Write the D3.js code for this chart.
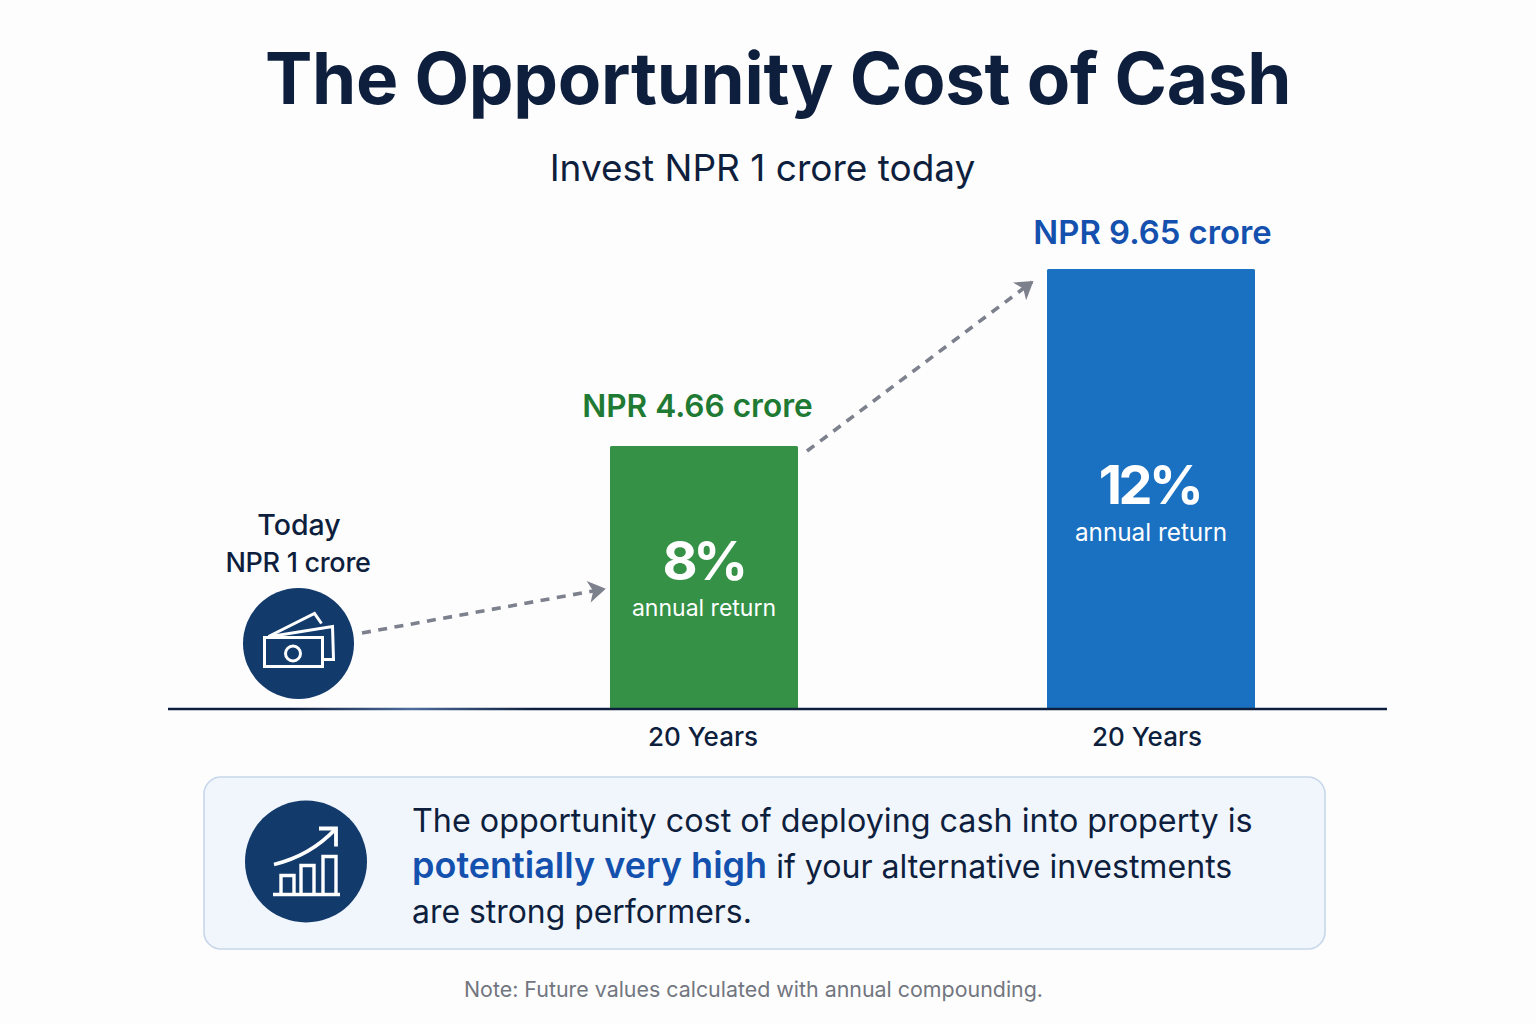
<!DOCTYPE html>
<html lang="en">
<head>
<meta charset="utf-8">
<title>The Opportunity Cost of Cash</title>
<script src="https://cdn.jsdelivr.net/npm/d3@7"></script>
<style>
  html, body { margin: 0; padding: 0; background: #fdfdfe; }
  svg { display: block; }
  text { font-family: Inter, "Noto Sans", sans-serif; }
</style>
</head>
<body>
<svg id="chart" width="1536" height="1024"></svg>
<script>
// Chart values
const categories = ["8%", "12%"];
const futureValues = [4.66, 9.65];
const valueLabels = ["NPR 4.66 crore", "NPR 9.65 crore"];
const barColors = ["#359146", "#1b71c1"];
const labelColors = ["#1f7a33", "#1450ad"];
const horizonLabels = ["20 Years", "20 Years"];
const calloutLines = [
  [["The opportunity cost of deploying cash into property is", false]],
  [["potentially very high", true], [" if your alternative investments", false]],
  [["are strong performers.", false]]
];
const calloutSizes = [32.3, 32.1, 31.9];

const ink = "#0e1f3d";
const navy = "#123a6b";
const svg = d3.select("#chart");
const defs = svg.append("defs");

// Scales: the value axis is compressed, with its zero on the baseline
const baseY = 709;
const y = d3.scalePow().exponent(0.707).domain([0, 9.65]).range([baseY, 269]);
const barLeft = d3.scaleOrdinal().domain(categories).range([610, 1047]);
const barWidth = d3.scaleOrdinal().domain(categories).range([188, 208]);
const barMid = c => barLeft(c) + barWidth(c) / 2;

const bars = categories.map((c, i) => ({
  c, value: futureValues[i], label: valueLabels[i],
  fill: barColors[i], labelFill: labelColors[i], horizon: horizonLabels[i]
}));

function put(sel, x, yPos, str, size, weight, fill, anchor = "middle") {
  return sel.append("text").attr("x", x).attr("y", yPos)
    .attr("font-size", size).attr("font-weight", weight)
    .attr("fill", fill).attr("text-anchor", anchor).text(str);
}

// Headings
put(svg, 778, 103.5, "The Opportunity Cost of Cash", 71, 700, ink).attr("letter-spacing", -0.3);
put(svg, 762.5, 181, "Invest NPR 1 crore today", 37, 400, ink);

// Bars
svg.append("g").selectAll("rect").data(bars).join("rect")
  .attr("x", d => barLeft(d.c))
  .attr("y", d => y(d.value))
  .attr("width", d => barWidth(d.c))
  .attr("height", d => baseY - y(d.value))
  .attr("rx", 1.5)
  .attr("fill", d => d.fill);

// Labels on and above each bar
bars.forEach((d, i) => {
  const mid = barMid(d.c);
  const top = y(d.value);
  put(svg, i ? mid + 1.5 : mid - 6.5, top - (i ? 25 : 29), d.label, i ? 32.8 : 31.6, 600, d.labelFill);
  const pctY = top + (i ? 235 : 134);
  put(svg, i ? mid - 1.5 : mid - 1, pctY, d.c, 54, 700, "#ffffff").attr("letter-spacing", i ? -3.5 : -4.5);
  put(svg, mid, pctY + (i ? 37 : 36), "annual return", i ? 24.3 : 23, 400, "#ffffff");
  put(svg, i ? mid - 4 : mid - 1, 746, d.horizon, 26, 500, ink);
});

// Baseline with a soft highlight toward its left side
const lineGrad = defs.append("linearGradient").attr("id", "baseGlow")
  .attr("gradientUnits", "userSpaceOnUse")
  .attr("x1", 168).attr("x2", 1387).attr("y1", 0).attr("y2", 0);
[[0, ink], [0.1, ink], [0.2, "#4d6d9d"], [0.3, ink], [1, ink]].forEach(([o, c]) =>
  lineGrad.append("stop").attr("offset", o).attr("stop-color", c));
svg.append("line").attr("x1", 168).attr("x2", 1387)
  .attr("y1", baseY).attr("y2", baseY)
  .attr("stroke", "url(#baseGlow)").attr("stroke-width", 2.4);

// Starting point: banknotes badge
put(svg, 299, 535, "Today", 28.5, 500, ink);
put(svg, 298, 572, "NPR 1 crore", 27, 500, ink).attr("letter-spacing", -0.3);
const cash = svg.append("g").attr("transform", "translate(298.5,643.5)");
cash.append("circle").attr("r", 55.5).attr("fill", navy);
const cashLines = cash.append("g").attr("fill", "none").attr("stroke", "#fff")
  .attr("stroke-width", 3).attr("stroke-linejoin", "miter");
cashLines.append("rect").attr("x", -34).attr("y", -6).attr("width", 58).attr("height", 29);
cashLines.append("circle").attr("cx", -5.5).attr("cy", 10).attr("r", 7.5);
cashLines.append("path").attr("d", "M-28,-7 L34,-17 L35,16 L25,16");
cashLines.append("path").attr("d", "M-30,-7 L16,-30 L23,-20");

// Dashed arrows linking start and bars
const arrowColor = "#7d818d";
defs.append("marker").attr("id", "arrowHead").attr("viewBox", "0 0 12 12")
  .attr("refX", 11).attr("refY", 6).attr("markerWidth", 22).attr("markerHeight", 22)
  .attr("markerUnits", "userSpaceOnUse").attr("orient", "auto")
  .append("path").attr("d", "M2.5,0 L12,6 L2.5,12 L5,6 Z").attr("fill", arrowColor);

const arrowPairs = [
  [[362, 633], [barLeft(categories[0]) - 6, y(futureValues[0]) + 143]],
  [[barLeft(categories[0]) + barWidth(categories[0]) + 9, y(futureValues[0]) + 5],
   [barLeft(categories[1]) - 15, y(futureValues[1]) + 13]]
];
const straight = d3.line();
svg.append("g").selectAll("path").data(arrowPairs).join("path")
  .attr("d", d => straight(d))
  .attr("fill", "none").attr("stroke", arrowColor)
  .attr("stroke-width", 3.6).attr("stroke-dasharray", "9 7.5")
  .attr("marker-end", "url(#arrowHead)");

// Callout panel
svg.append("rect").attr("x", 204).attr("y", 777).attr("width", 1121).attr("height", 172)
  .attr("rx", 17).attr("fill", "#f1f6fd").attr("stroke", "#c6d6e9").attr("stroke-width", 1.6);

const growth = svg.append("g").attr("transform", "translate(306,861.5)");
growth.append("circle").attr("r", 61).attr("fill", navy);
const growthLines = growth.append("g").attr("fill", "none").attr("stroke", "#fff").attr("stroke-width", 3.4);
growthLines.append("path").attr("d", "M-33,33 L34,33");
growthLines.append("path").attr("d", "M-25,33 V14 H-12 V33 M-5,33 V4 H8 V33 M17,33 V-5 H30 V33");
growthLines.append("path").attr("d", "M-32,3 C-8,-3 12,-14 29,-32").attr("stroke-width", 3.8);
growthLines.append("path").attr("d", "M13,-33 H30 V-15").attr("stroke-width", 3.8);

const calloutText = svg.append("g");
calloutLines.forEach((runs, i) => {
  const t = calloutText.append("text").attr("x", 412).attr("y", 832 + i * 45.5)
    .attr("font-size", calloutSizes[i]).attr("fill", ink);
  runs.forEach(([str, strong]) => {
    t.append("tspan").text(str)
      .attr("font-size", strong ? 36 : calloutSizes[i])
      .attr("font-weight", strong ? 600 : 400)
      .attr("fill", strong ? "#1450ad" : ink);
  });
});

// Footnote
put(svg, 753.5, 997, "Note: Future values calculated with annual compounding.", 21.4, 400, "#72767f");
</script>
</body>
</html>
